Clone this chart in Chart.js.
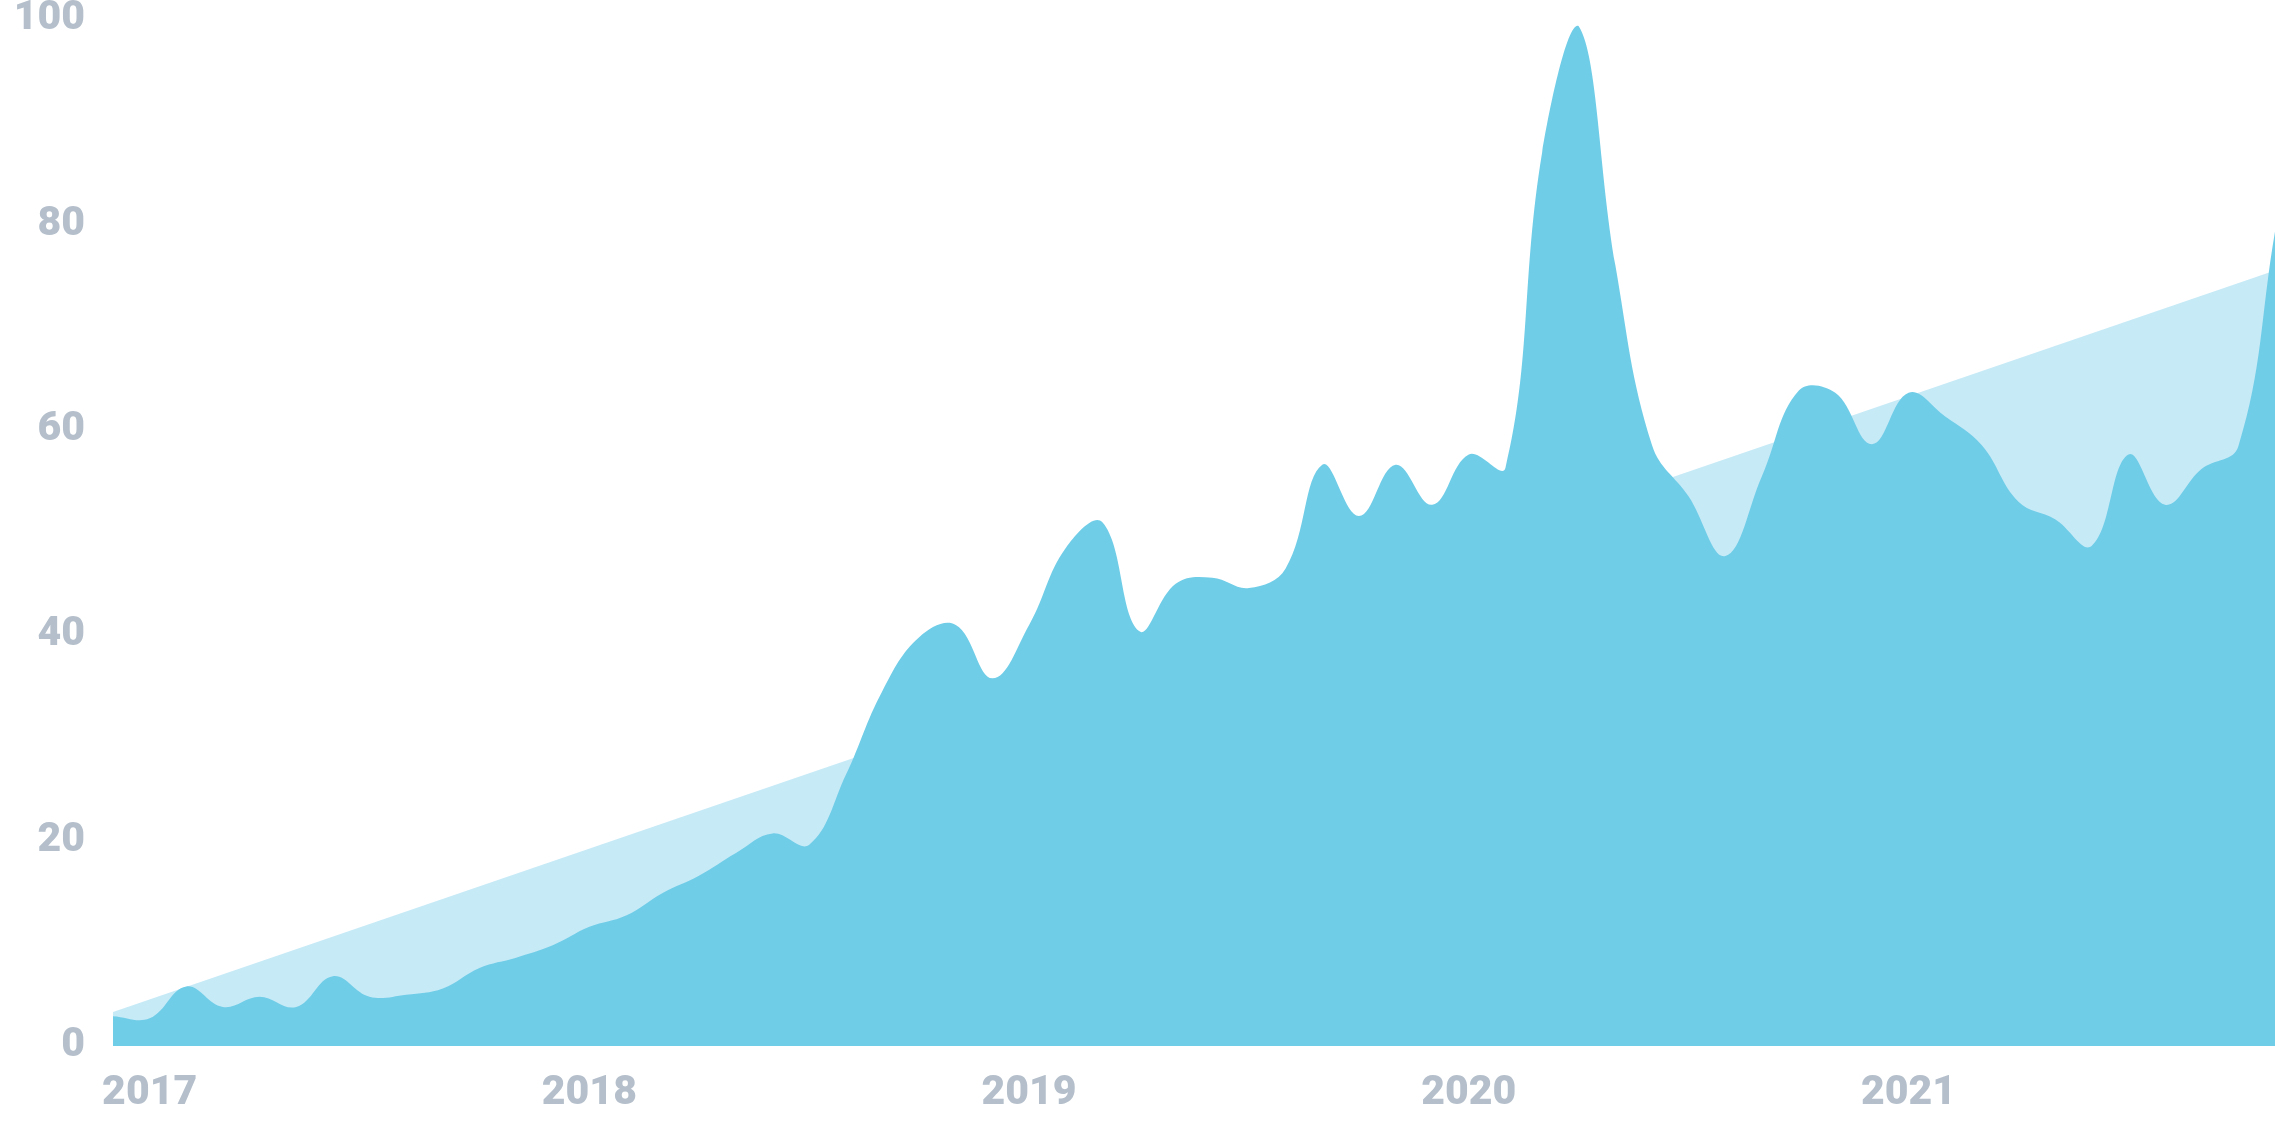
<!DOCTYPE html>
<html><head><meta charset="utf-8">
<script src="https://cdn.jsdelivr.net/npm/chart.js@4.4.1/dist/chart.umd.min.js"></script>
<style>html,body{margin:0;padding:0;background:#fff;}canvas{display:block;}</style>
</head><body>
<canvas id="c" width="2282" height="1140"></canvas>
<script>
const monthLabels = [
 'Dec 2016',
 'Jan 2017','Feb 2017','Mar 2017','Apr 2017','May 2017','Jun 2017','Jul 2017','Aug 2017','Sep 2017','Oct 2017','Nov 2017','Dec 2017',
 'Jan 2018','Feb 2018','Mar 2018','Apr 2018','May 2018','Jun 2018','Jul 2018','Aug 2018','Sep 2018','Oct 2018','Nov 2018','Dec 2018',
 'Jan 2019','Feb 2019','Mar 2019','Apr 2019','May 2019','Jun 2019','Jul 2019','Aug 2019','Sep 2019','Oct 2019','Nov 2019','Dec 2019',
 'Jan 2020','Feb 2020','Mar 2020','Apr 2020','May 2020','Jun 2020','Jul 2020','Aug 2020','Sep 2020','Oct 2020','Nov 2020','Dec 2020',
 'Jan 2021','Feb 2021','Mar 2021','Apr 2021','May 2021','Jun 2021','Jul 2021','Aug 2021','Sep 2021','Oct 2021','Nov 2021'
];
const values = [
 2.9,
 2.7, 5.8, 3.8, 4.8, 3.8, 6.8, 4.8, 5.0, 5.6, 7.6, 8.6, 9.8,
 11.6, 12.7, 14.9, 16.6, 18.8, 20.7, 19.6, 26.4, 34.6, 39.8, 41.0, 35.8,
 41.0, 48.5, 51.0, 40.4, 45.0, 45.6, 44.6, 46.5, 56.6, 51.6, 56.6, 52.7,
 57.6, 56.3, 87.0, 99.3, 76.0, 58.5, 53.5, 47.7, 55.5, 63.8, 63.6, 58.6,
 63.6, 61.3, 58.5, 53.0, 51.3, 48.7, 57.6, 52.7, 56.2, 58.4, 79.3
];
const trendIndex = [0, 59];
const trendValues = [3.3, 75.5];
const yearLabels = ['2017', '2018', '2019', '2020', '2021'];
const yearIndex = [1, 13, 25, 37, 49];
const yTicks = [0, 20, 40, 60, 80, 100];

const tickColor = '#B4BFCB';
const tickFont = {family: 'Roboto', weight: '900', size: 41};

const mainData = values.map((v, i) => ({x: i, y: v}));
const trendData = trendIndex.map((ix, i) => ({x: ix, y: trendValues[i]}));

new Chart(document.getElementById('c'), {
  type: 'line',
  data: {
    datasets: [
      {label: 'Value', data: mainData, fill: 'origin', backgroundColor: '#70CDE8', borderWidth: 0, borderColor: 'rgba(0,0,0,0)', tension: 0.4, pointRadius: 0},
      {label: 'Trend', data: trendData, fill: 'origin', backgroundColor: '#C7EAF7', borderWidth: 0, borderColor: 'rgba(0,0,0,0)', tension: 0, pointRadius: 0}
    ]
  },
  options: {
    responsive: false,
    animation: false,
    devicePixelRatio: 1,
    layout: {padding: {left: 0, right: 7, top: 19, bottom: 0}},
    plugins: {legend: {display: false}, tooltip: {enabled: false}},
    scales: {
      x: {
        type: 'linear', min: 0, max: monthLabels.length - 1,
        grid: {display: false, drawTicks: false}, border: {display: false},
        afterBuildTicks: s => { s.ticks = yearIndex.map(v => ({value: v})); },
        ticks: {autoSkip: false, maxRotation: 0, minRotation: 0, padding: 23, color: tickColor, font: tickFont,
          callback: v => { const k = yearIndex.indexOf(v); return k >= 0 ? yearLabels[k] : ''; }},
        afterFit: s => { s.height = 94; s.paddingLeft = 0; s.paddingRight = 0; }
      },
      y: {
        min: 0, max: 100,
        grid: {display: false, drawTicks: false}, border: {display: false},
        afterBuildTicks: s => { s.ticks = yTicks.map(v => ({value: v})); },
        ticks: {padding: 28, color: tickColor, font: tickFont},
        afterFit: s => { s.width = 113; s.paddingTop = 0; s.paddingBottom = 0; }
      }
    }
  }
});
</script>
</body></html>
